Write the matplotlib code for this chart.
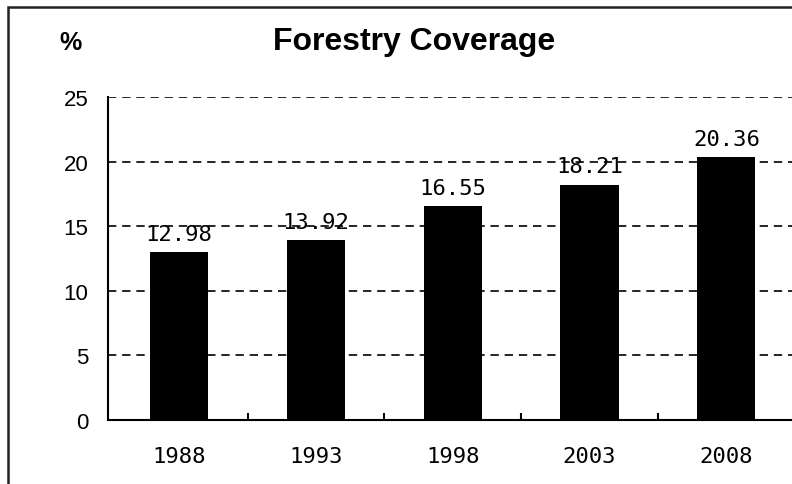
import matplotlib.pyplot as plt
from matplotlib.patches import Rectangle

years = ['1988', '1993', '1998', '2003', '2008']
coverage = [12.98, 13.92, 16.55, 18.21, 20.36]
yticks = [0, 5, 10, 15, 20, 25]

fig = plt.figure(figsize=(7.92, 4.85), dpi=100)
ax = fig.add_axes([108 / 792, 1 - 421 / 485, 1 - 108 / 792, (421 - 98) / 485])

x = list(range(len(years)))
ax.bar(x, coverage, width=0.425, color='black', zorder=3)

for xi, v in zip(x, coverage):
    ax.annotate(f'{v:.2f}', (xi, v), xytext=(0, 6), textcoords='offset points',
                ha='center', va='bottom', fontsize=16, family='DejaVu Sans Mono')

ax.set_xlim(-0.52, len(years) - 0.52)
ax.set_ylim(0, 25)
ax.set_yticks(yticks)
ax.set_yticklabels([str(t) for t in yticks], fontsize=16, family='Liberation Sans')
ax.set_xticks(x)
ax.set_xticklabels(years, fontsize=16, family='DejaVu Sans Mono')
ax.set_xticks([i + 0.5 for i in x[:-1]], minor=True)
ax.tick_params(axis='x', which='major', length=0, pad=19)
ax.tick_params(axis='x', which='minor', direction='in', length=5, width=1.5, color='black')
ax.tick_params(axis='y', length=0, pad=14)

ax.yaxis.grid(True, color='black', linestyle=(0, (5, 3.5)), linewidth=1.2, zorder=0)
ax.set_axisbelow(True)
for s in ['top', 'right']:
    ax.spines[s].set_visible(False)
for s in ['left', 'bottom']:
    ax.spines[s].set_linewidth(1.5)
    ax.spines[s].set_color('black')

fig.text(414 / 792, 1 - 42 / 485, 'Forestry Coverage', ha='center', va='center',
         fontsize=23, fontweight='bold', family='Liberation Sans')
fig.text(70 / 792, 1 - 43 / 485, '%', ha='center', va='center',
         fontsize=18, fontweight='bold', family='Liberation Sans')

# outer frame (only top and left edges visible in the crop)
fig.patches.append(Rectangle((8 / 792, -0.2), 1.2, 1.2 - 8 / 485, fill=False,
                             edgecolor='#222222', linewidth=1.8,
                             transform=fig.transFigure, figure=fig))

fig.savefig('out.png', dpi=100)
